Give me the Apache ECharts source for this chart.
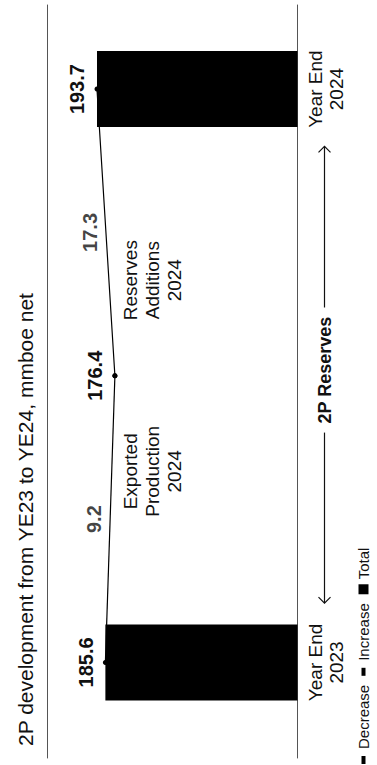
<!DOCTYPE html>
<html>
<head>
<meta charset="utf-8">
<script src="https://cdn.jsdelivr.net/npm/echarts@6/dist/echarts.min.js"></script>
<style>
  html, body { margin: 0; padding: 0; width: 377px; height: 765px; overflow: hidden; background: #fff; }
  /* chart is laid out in landscape and turned a quarter to the left */
  #chart { position: absolute; left: 0; top: 0; width: 765px; height: 377px;
           transform-origin: 0 0; transform: translateY(765px) rotate(-90deg); }
</style>
</head>
<body>
<div id="chart"></div>
<script>
var categories = ['Year End\n2023', 'Exported\nProduction\n2024', 'Reserves\nAdditions\n2024', 'Year End\n2024'];
var totals = [185.6, 193.7];      // year end 2023, year end 2024
var changes = [-9.2, 17.3];       // exported production, reserves additions
var legendNames = ['Decrease', 'Increase', 'Total'];
var titleText = '2P development from YE23 to YE24, mmboe net';
var bracketText = '2P Reserves';

var font = "'Liberation Sans', Arial, Helvetica, sans-serif";
var ink = '#111';

// value after production, sits between the two middle categories
var mid = +(totals[0] + changes[0]).toFixed(1);

var chart = echarts.init(document.getElementById('chart'), null, {renderer: 'svg'});

var valueLabel = {
    show: true, position: 'top', distance: 7,
    color: ink, fontFamily: font, fontSize: 20, fontWeight: 'bold',
    formatter: function (p) { return p.value[1].toFixed(1); }
};

var dashIcon = 'path://M0,0M0,3H8V7H0ZM10,10';

var option = {
    textStyle: {fontFamily: font},
    title: {
        text: titleText, left: 14, top: 10,
        textStyle: {fontSize: 21, fontWeight: 'normal', color: ink, fontFamily: font}
    },
    legend: {
        left: 1, top: 356, padding: 0, itemWidth: 10, itemHeight: 10, itemGap: 9,
        selectedMode: false,
        textStyle: {fontSize: 15, color: ink, fontFamily: font},
        data: [
            {name: legendNames[0], icon: dashIcon},
            {name: legendNames[1], icon: dashIcon},
            {name: legendNames[2], icon: 'rect'}
        ]
    },
    grid: {left: 7, right: 5, top: 47, bottom: 79.5},
    xAxis: [{
        type: 'value', min: -0.5, max: 3.44, position: 'bottom',
        axisLine: {show: true, onZero: false, lineStyle: {color: '#555', width: 1}},
        axisTick: {show: false}, splitLine: {show: false},
        axisLabel: {
            customValues: [0, 3], margin: 7,
            color: ink, fontSize: 19, lineHeight: 21, fontFamily: font,
            formatter: function (v) { return categories[Math.round(v)]; }
        }
    }, {
        type: 'value', min: -0.5, max: 3.44, position: 'top',
        axisLine: {show: true, onZero: false, lineStyle: {color: '#555', width: 1}},
        axisTick: {show: false}, splitLine: {show: false},
        axisLabel: {
            inside: true, customValues: [1, 2], margin: 72,
            color: ink, fontSize: 19, lineHeight: 22, fontFamily: font,
            formatter: function (v) { return categories[Math.round(v)]; }
        }
    }],
    yAxis: {type: 'value', min: 0, max: 242, show: false},
    series: [{
        name: legendNames[2], type: 'bar', barWidth: 76,
        itemStyle: {color: '#000'},
        data: [[0, totals[0]], [3, totals[1]]]
    }, {
        name: legendNames[0], type: 'line', z: 3,
        symbol: 'circle', symbolSize: 5,
        itemStyle: {color: '#000'}, lineStyle: {color: '#000', width: 1.2},
        label: valueLabel,
        data: [[0, totals[0]], [1.5, mid]]
    }, {
        name: legendNames[1], type: 'line', z: 3,
        symbol: 'circle', symbolSize: 5,
        itemStyle: {color: '#000'}, lineStyle: {color: '#000', width: 1.2},
        label: valueLabel,
        data: [{value: [1.5, mid], label: {show: false}}, [3, totals[1]]]
    }, {
        // step sizes written at the middle of each segment
        type: 'scatter', symbolSize: 0, z: 4, silent: true,
        label: {
            show: true, position: 'top', distance: 6,
            color: ink, fontFamily: font, fontSize: 20, fontWeight: 'bold',
            formatter: function (p) { return Math.abs(changes[p.dataIndex]).toFixed(1); }
        },
        data: [[0.75, (totals[0] + mid) / 2], [2.25, (mid + totals[1]) / 2]]
    }]
};
chart.setOption(option);

// bracket under the axis: arrows out to both year ends, label in the middle
var y0 = chart.convertToPixel({yAxisIndex: 0}, 0);
var by = Math.round(y0 + 26) + 0.5;
var xl = chart.convertToPixel({xAxisIndex: 0}, 0.31);
var xr = chart.convertToPixel({xAxisIndex: 0}, 2.7);
var xc = chart.convertToPixel({xAxisIndex: 0}, 1.53);
var bracketFont = 'bold 18px ' + font;
var ctx = document.createElement('canvas').getContext('2d');
ctx.font = bracketFont;
var half = ctx.measureText(bracketText).width / 2 + 9;
var stroke = {stroke: '#111', lineWidth: 1.2, fill: null};

chart.setOption({
    graphic: [
        {type: 'polyline', shape: {points: [[xc - half, by], [xl, by]]}, style: stroke},
        {type: 'polyline', shape: {points: [[xl + 6, by - 6], [xl, by], [xl + 6, by + 6]]}, style: stroke},
        {type: 'polyline', shape: {points: [[xc + half, by], [xr, by]]}, style: stroke},
        {type: 'polyline', shape: {points: [[xr - 6, by - 6], [xr, by], [xr - 6, by + 6]]}, style: stroke},
        {type: 'text', x: xc, y: by, style: {
            text: bracketText, fill: ink, font: bracketFont,
            align: 'center', verticalAlign: 'middle'
        }}
    ]
});
</script>
</body>
</html>
